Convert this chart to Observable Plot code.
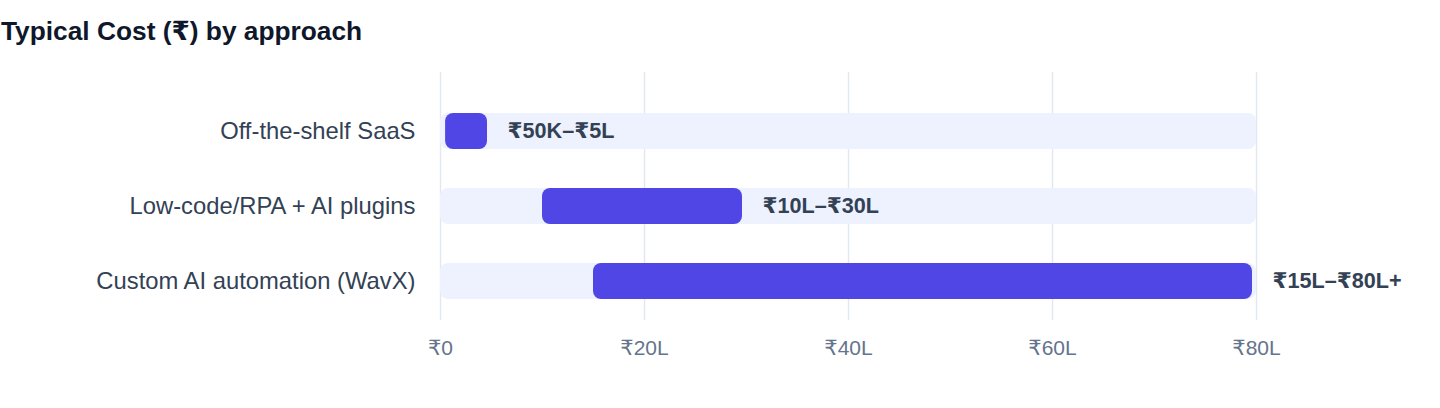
<!DOCTYPE html>
<html>
<head>
<meta charset="utf-8">
<script src="https://cdn.jsdelivr.net/npm/d3@7"></script>
<script src="https://cdn.jsdelivr.net/npm/@observablehq/plot@0.6"></script>
<style>
  html, body { margin: 0; padding: 0; background: #ffffff; }
  body { width: 1440px; height: 408px; overflow: hidden; font-family: "Liberation Sans", Arial, "DejaVu Sans", sans-serif; }
  #title { margin: 0; padding: 16px 0 0 1px; height: 30px; line-height: 30px; font-size: 26.3px; font-weight: 700; color: #0f172a; }
  #chart svg { display: block; }
</style>
</head>
<body>
<div id="title">Typical Cost (₹) by approach</div>
<div id="chart"></div>
<script>
const approaches = ["Off-the-shelf SaaS", "Low-code/RPA + AI plugins", "Custom AI automation (WavX)"];
const lowLakh = [0.5, 10, 15];
const highLakh = [5, 30, 80];
const rangeLabels = ["₹50K–₹5L", "₹10L–₹30L", "₹15L–₹80L+"];
const trackMax = 80;
const xTicks = [0, 20, 40, 60, 80];
const xTickLabels = ["₹0", "₹20L", "₹40L", "₹60L", "₹80L"];

const rows = approaches.map((a, i) => ({approach: a, low: lowLakh[i], high: highLakh[i], label: rangeLabels[i], max: trackMax}));

const chart = Plot.plot({
  width: 1440,
  height: 362,
  marginLeft: 440,
  marginRight: 184,
  marginTop: 26,
  marginBottom: 88,
  style: {fontFamily: '"Liberation Sans", Arial, "DejaVu Sans", sans-serif', background: "#ffffff"},
  x: {domain: [0, trackMax]},
  y: {domain: approaches, paddingInner: 0.526, paddingOuter: 0.395, align: 0.66},
  marks: [
    Plot.gridX(xTicks, {stroke: "#e2e8f0", strokeOpacity: 1, strokeWidth: 1.5}),
    Plot.barX(rows, {y: "approach", x1: 0, x2: "max", fill: "#eef2ff", rx: 8}),
    Plot.barX(rows, {y: "approach", x1: "low", x2: "high", fill: "#4f46e5", rx: 8, insetRight: 4}),
    Plot.text(rows, {y: "approach", x: "high", text: "label", dx: 16, textAnchor: "start", fontWeight: "bold", fontSize: 21.6, fill: "#334155"}),
    Plot.axisX({ticks: xTicks, tickFormat: (d) => xTickLabels[xTicks.indexOf(d)], tickSize: 0, tickPadding: 20, fontSize: 21, fill: "#64748b", label: null}),
    Plot.axisY({tickSize: 0, tickPadding: 25, fontSize: 23.8, fill: "#334155", label: null})
  ]
});
document.getElementById("chart").appendChild(chart);
</script>
</body>
</html>
